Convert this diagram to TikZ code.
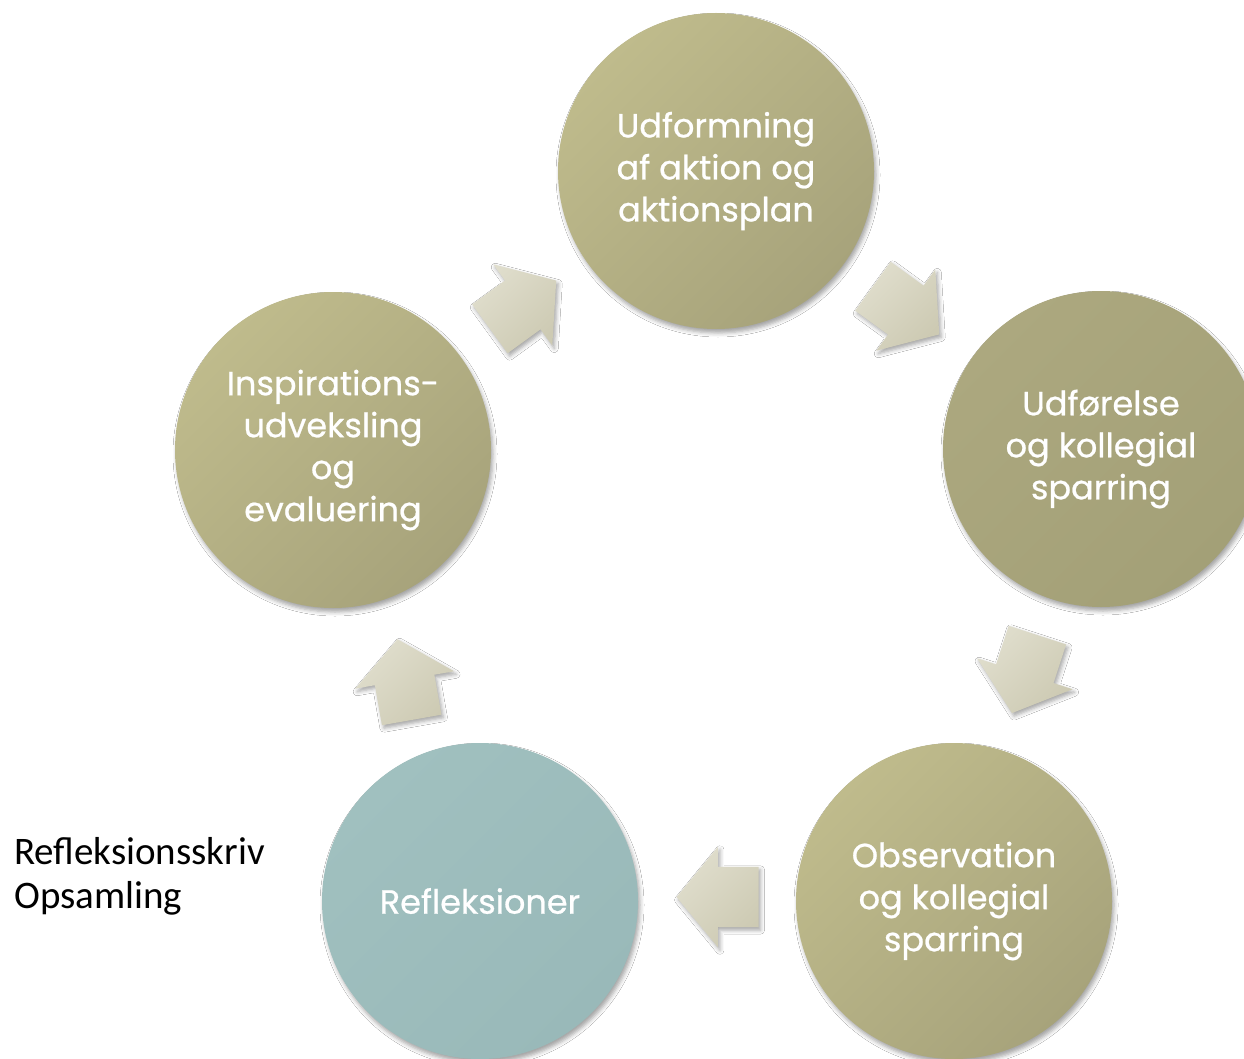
\documentclass[tikz,border=0pt]{standalone}
\usepackage{fontspec}
\setmainfont{Carlito}
\newfontfamily\circfont[FakeBold=0.7]{Poppins}
\usetikzlibrary{shadows.blur,shapes.arrows}
\definecolor{olA}{HTML}{BFBB8C}
\definecolor{olB}{HTML}{A7A37B}
\definecolor{olDA}{HTML}{ACA87F}
\definecolor{olDB}{HTML}{A3A077}
\definecolor{tealA}{HTML}{A0C0BF}
\definecolor{tealB}{HTML}{99B9B9}
\definecolor{arA}{HTML}{E0DECD}
\definecolor{arB}{HTML}{CDCAB3}
\begin{document}
\begin{tikzpicture}[x=1pt,y=-1pt,
  stage/.style={circle, minimum size=316pt, inner sep=0pt, align=center,
    text=white, font=\circfont\fontsize{33.5}{42}\selectfont,
    top color=olA, bottom color=olB, shading angle=45,
    blur shadow={shadow xshift=2pt, shadow yshift=-4pt, shadow blur radius=4pt, shadow opacity=35}},
  darkstage/.style={stage, top color=olDA, bottom color=olDB, shading angle=45},
  tealstage/.style={stage, top color=tealA, bottom color=tealB, shading angle=45},
  cyc/.style={single arrow, minimum height=82pt, minimum width=100pt,
    single arrow head extend=20pt, single arrow tip angle=101, inner sep=0pt,
    top color=arA, bottom color=arB, shading angle=45,
    blur shadow={shadow xshift=2pt, shadow yshift=-3pt, shadow blur radius=4pt, shadow opacity=35}}
]
\useasboundingbox (0,0) rectangle (1244,1059);
\clip (0,0) rectangle (1244,1059);
\fill[white] (0,0) rectangle (1244,1059);

\node[stage] (top) at (716,171) {Udformning\\af aktion og\\aktionsplan};
\node[darkstage] (right) at (1101,449) {Udførelse\\og kollegial\\sparring};
\node[stage] (br) at (954,901) {Observation\\og kollegial\\sparring};
\node[tealstage] (bl) at (480,901) {Refleksioner};
\node[stage] (left) at (333,450) {Inspirations-\\udveksling\\og\\evaluering};

\node[cyc, rotate=36] (aA) at (513,312) {\rule{0pt}{60pt}};
\node[cyc, rotate=-36] (aB) at (896,303) {\rule{0pt}{60pt}};
\node[cyc, rotate=-108] (aC) at ([shift={(72:5pt)}]1027,667) {\rule{0pt}{60pt}};
\node[cyc, rotate=180] (aD) at ([shift={(0:11pt)}]719,897) {\rule{0pt}{60pt}};
\node[cyc, rotate=100] (aE) at ([shift={(280:10pt)}]405,682) {\rule{0pt}{60pt}};

\node[anchor=west, inner sep=0pt, align=left, font=\fontsize{39}{44}\selectfont] (note) at (14,876) {Refleksionsskriv\\Opsamling};
\end{tikzpicture}
\end{document}
